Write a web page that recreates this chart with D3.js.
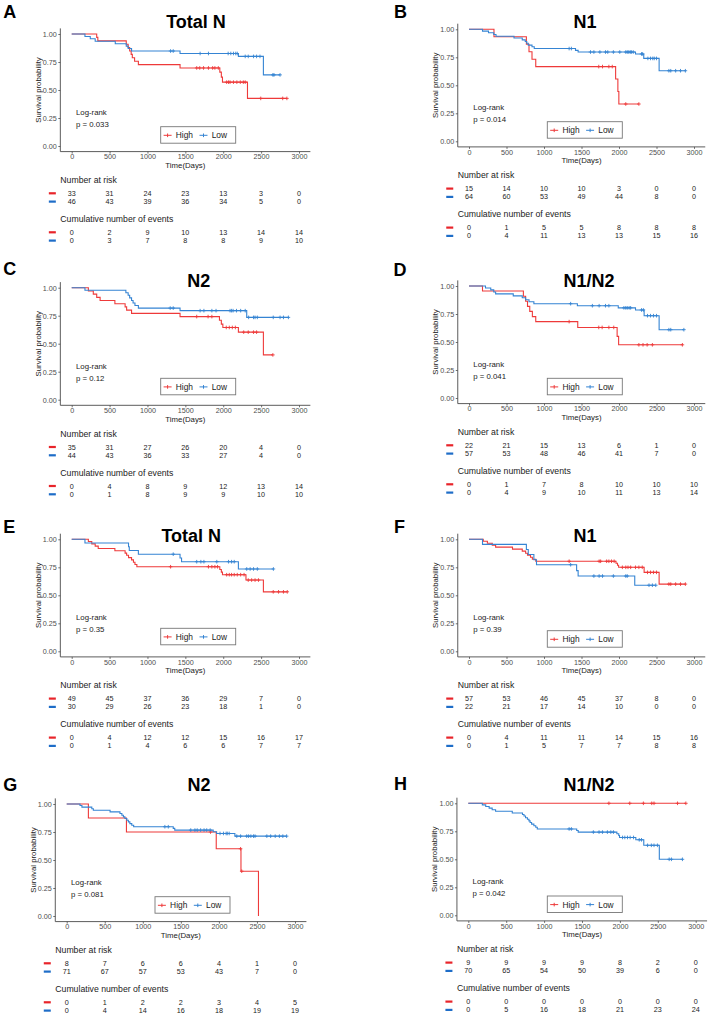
<!DOCTYPE html>
<html><head><meta charset="utf-8">
<script src="https://cdn.jsdelivr.net/npm/d3@7"></script>
<style>body{margin:0;background:#fff}svg{display:block}text{font-family:"Liberation Sans",Arial,sans-serif}</style>
</head><body><svg id="c" width="709" height="1017"></svg>
<script>
// ---------- DATA ----------
const timeTicks = [0, 500, 1000, 1500, 2000, 2500, 3000];
const survTicks = [0, 0.25, 0.5, 0.75, 1];
const panelLetters = ["A", "B", "C", "D", "E", "F", "G", "H"];
const panelTitles = ["Total N", "N1", "N2", "N1/N2", "Total N", "N1", "N2", "N1/N2"];
const pValues = ["p = 0.033", "p = 0.014", "p = 0.12", "p = 0.041", "p = 0.35", "p = 0.39", "p = 0.081", "p = 0.042"];
const groupNames = ["High", "Low"];

const riskHigh = [
  [33, 31, 24, 23, 13, 3, 0], [15, 14, 10, 10, 3, 0, 0], [35, 31, 27, 26, 20, 4, 0], [22, 21, 15, 13, 6, 1, 0],
  [49, 45, 37, 36, 29, 7, 0], [57, 53, 46, 45, 37, 8, 0], [8, 7, 6, 6, 4, 1, 0], [9, 9, 9, 9, 8, 2, 0]];
const riskLow = [
  [46, 43, 39, 36, 34, 5, 0], [64, 60, 53, 49, 44, 8, 0], [44, 43, 36, 33, 27, 4, 0], [57, 53, 48, 46, 41, 7, 0],
  [30, 29, 26, 23, 18, 1, 0], [22, 21, 17, 14, 10, 0, 0], [71, 67, 57, 53, 43, 7, 0], [70, 65, 54, 50, 39, 6, 0]];
const eventsHigh = [
  [0, 2, 9, 10, 13, 14, 14], [0, 1, 5, 5, 8, 8, 8], [0, 4, 8, 9, 12, 13, 14], [0, 1, 7, 8, 10, 10, 10],
  [0, 4, 12, 12, 15, 16, 17], [0, 4, 11, 11, 14, 15, 16], [0, 1, 2, 2, 3, 4, 5], [0, 0, 0, 0, 0, 0, 0]];
const eventsLow = [
  [0, 3, 7, 8, 8, 9, 10], [0, 4, 11, 13, 13, 15, 16], [0, 1, 8, 9, 9, 10, 10], [0, 4, 9, 10, 11, 13, 14],
  [0, 1, 4, 6, 6, 7, 7], [0, 1, 5, 7, 7, 8, 8], [0, 4, 14, 16, 18, 19, 19], [0, 5, 16, 18, 21, 23, 24]];

// Kaplan-Meier drops [time, survival after drop]
const stepsHigh = [
  [[330,0.97],[345,0.939],[720,0.909],[745,0.879],[765,0.848],[785,0.818],[800,0.788],[830,0.757],[880,0.727],[1430,0.697],[1955,0.66],[1975,0.615],[1990,0.57],[2320,0.425]],
  [[333,0.933],[765,0.867],[800,0.80],[840,0.733],[890,0.667],[1955,0.556],[1985,0.444],[1998,0.333]],
  [[220,0.971],[285,0.943],[330,0.914],[375,0.886],[570,0.857],[705,0.829],[725,0.80],[790,0.771],[1430,0.742],[1950,0.71],[1975,0.675],[1995,0.645],[2200,0.603],[2530,0.40]],
  [[180,0.955],[725,0.909],[755,0.864],[780,0.818],[810,0.773],[845,0.727],[890,0.682],[1450,0.63],[1975,0.55],[1995,0.475]],
  [[220,0.98],[265,0.959],[310,0.939],[350,0.918],[570,0.898],[705,0.877],[725,0.857],[750,0.836],[790,0.816],[815,0.795],[835,0.775],[860,0.755],[1955,0.73],[1975,0.707],[1990,0.684],[2300,0.636],[2530,0.531]],
  [[190,0.982],[245,0.965],[310,0.947],[355,0.93],[580,0.912],[710,0.894],[755,0.876],[780,0.857],[820,0.84],[845,0.822],[890,0.804],[1960,0.786],[1980,0.768],[1995,0.75],[2335,0.705],[2535,0.60]],
  [[285,0.875],[785,0.75],[1965,0.60],[2290,0.40],[2520,0.0]],
  []];
const stepsLow = [
  [[175,0.978],[245,0.957],[310,0.935],[575,0.913],[720,0.892],[745,0.87],[790,0.848],[1430,0.826],[2200,0.80],[2530,0.635]],
  [[180,0.984],[260,0.969],[330,0.953],[360,0.938],[600,0.922],[710,0.906],[750,0.891],[770,0.875],[790,0.859],[840,0.844],[870,0.828],[1420,0.812],[1455,0.797],[2220,0.78],[2330,0.74],[2535,0.63]],
  [[175,0.977],[715,0.955],[745,0.932],[765,0.909],[790,0.886],[810,0.864],[835,0.841],[880,0.818],[1430,0.795],[2310,0.735]],
  [[220,0.982],[290,0.965],[330,0.947],[355,0.93],[590,0.912],[710,0.895],[755,0.877],[800,0.86],[865,0.842],[1445,0.824],[1990,0.805],[2220,0.786],[2335,0.735],[2535,0.61]],
  [[175,0.967],[750,0.933],[760,0.90],[880,0.867],[1430,0.833],[1450,0.80],[2200,0.735]],
  [[180,0.955],[765,0.909],[790,0.864],[865,0.818],[900,0.773],[1435,0.72],[1455,0.672],[2210,0.59]],
  [[175,0.986],[200,0.972],[330,0.958],[350,0.944],[570,0.93],[700,0.915],[725,0.90],[745,0.885],[765,0.87],[790,0.855],[810,0.84],[830,0.825],[855,0.81],[880,0.797],[1400,0.782],[1420,0.767],[1925,0.752],[1970,0.737],[2210,0.713]],
  [[185,0.986],[230,0.971],[275,0.957],[315,0.943],[360,0.929],[580,0.914],[715,0.90],[735,0.886],[755,0.871],[780,0.857],[800,0.843],[815,0.829],[835,0.814],[865,0.80],[890,0.786],[910,0.771],[1430,0.757],[1450,0.743],[1960,0.728],[1985,0.712],[1995,0.695],[2210,0.674],[2315,0.625],[2520,0.50]]];

// censoring times
const censorHigh = [
  [1650,1690,1740,1805,1860,1890,1935,2045,2070,2090,2135,2180,2225,2265,2290,2495,2785,2840],
  [1730,1780,1865,1910,2090,2265],
  [1650,1800,1850,2040,2080,2120,2160,2270,2330,2400,2440,2655],
  [1335,1730,1775,1865,1930,2265,2320,2375,2445,2845],
  [1305,1805,1850,1890,1925,2045,2080,2110,2145,2185,2230,2275,2330,2375,2420,2465,2660,2730,2795,2845],
  [1335,1735,1755,1835,1865,1900,1935,2045,2090,2120,2155,2220,2265,2310,2380,2420,2460,2500,2665,2690,2755,2820,2885],
  [1890,2285,2300],
  [1855,2130,2310,2420,2450,2760,2870]];
const censorLow = [
  [1305,1340,1695,1805,2065,2100,2135,2165,2185,2290,2330,2400,2440,2485,2655,2670,2750],
  [1335,1365,1620,1665,1745,1820,1850,1925,2010,2090,2110,2130,2150,2165,2190,2300,2315,2385,2420,2450,2470,2500,2665,2690,2755,2820,2885],
  [1300,1340,1695,1745,1850,1905,2090,2110,2130,2175,2230,2290,2335,2400,2420,2450,2660,2750,2795,2860],
  [1355,1645,1735,1820,1865,2065,2090,2110,2135,2155,2300,2325,2380,2420,2460,2500,2665,2690,2865],
  [1340,1650,1705,1745,1915,2070,2110,2145,2310,2355,2400,2450,2662],
  [1355,1665,1735,1780,1925,2090,2110,2400,2445,2490],
  [1290,1335,1630,1685,1715,1760,1805,1840,1885,2015,2060,2095,2110,2135,2235,2285,2365,2390,2420,2455,2475,2630,2680,2740,2795,2840,2890],
  [1330,1360,1650,1725,1770,1835,1880,1915,2035,2065,2100,2135,2180,2255,2285,2365,2415,2450,2495,2650,2680,2825]];

// ---------- LAYOUT (positions only) ----------
const layout = [
  {x0:71.7, x1:299,   y1:34,    tx:196,   ty:28.3,  lx:3.3,   ly:18.3,  legX:89,   legY:-19.3},
  {x0:469,  x1:694,   y1:29.3,  tx:585,   ty:28.3,  lx:394,   ly:18.3,  legX:78.3, legY:-19.6},
  {x0:71.7, x1:299,   y1:287.7, tx:198.7, ty:287.3, lx:3.3,   ly:275,   legX:89,   legY:-21.4},
  {x0:469,  x1:694,   y1:286,   tx:589,   ty:287.3, lx:393.5, ly:276,   legX:78.3, legY:-19.7},
  {x0:71.7, x1:299,   y1:539.3, tx:191.3, ty:541.7, lx:3.3,   ly:533.3, legX:89,   legY:-23},
  {x0:469,  x1:694,   y1:539.3, tx:585,   ty:541.7, lx:394,   ly:533.3, legX:78.3, legY:-20.6},
  {x0:66.7, x1:295,   y1:804,   tx:199,   ty:790.7, lx:3.3,   ly:790.7, legX:88.3, legY:-19.3},
  {x0:468.3,x1:695.7, y1:803.3, tx:589,   ty:790.7, lx:394,   ly:790,   legX:79,   legY:-19.3}];
const PH = 112;
const colCurve = ["#EE3A3A", "#3584D3"];
const colDash = ["#E8242A", "#1E6DC8"];
const axisCol = "#4a4a4a";

const svg = d3.select("#c");

function sAt(steps, c) { let s = 1; for (const [t, v] of steps) if (t <= c) s = v; return s; }

panelLetters.forEach((letter, i) => {
  const L = layout[i];
  const x = d3.scaleLinear().domain([0, 3000]).range([L.x0, L.x1]);
  const y = d3.scaleLinear().domain([0, 1]).range([L.y1 + PH, L.y1]);
  const g = svg.append("g");
  const ax = x(-150), ay = y(-0.05), y0 = y(0);

  // letter & title
  g.append("text").attr("x", L.lx).attr("y", L.ly).attr("font-size", 18).attr("font-weight", "bold").text(letter);
  g.append("text").attr("x", L.tx).attr("y", L.ty).attr("font-size", 18).attr("font-weight", "bold")
    .attr("text-anchor", "middle").text(panelTitles[i]);

  // axes
  g.append("line").attr("x1", ax).attr("x2", x(3150)).attr("y1", ay).attr("y2", ay).attr("stroke", axisCol).attr("stroke-width", 0.9);
  g.append("line").attr("x1", ax).attr("x2", ax).attr("y1", ay).attr("y2", y(1.05)).attr("stroke", axisCol).attr("stroke-width", 0.9);
  const xa = g.append("g").attr("transform", `translate(0,${ay})`)
    .call(d3.axisBottom(x).tickValues(timeTicks).tickSize(2).tickPadding(0.6).tickFormat(d3.format("d")));
  const ya = g.append("g").attr("transform", `translate(${ax},0)`)
    .call(d3.axisLeft(y).tickValues(survTicks).tickSize(2).tickPadding(1.5).tickFormat(d3.format(".2f")));
  [xa, ya].forEach(a => {
    a.attr("font-size", null).attr("font-family", null);
    a.select(".domain").remove();
    a.selectAll(".tick line").attr("stroke", axisCol).attr("stroke-width", 0.8);
    a.selectAll(".tick text").attr("font-size", 7.2).attr("fill", "#4d4d4d");
  });
  g.append("text").attr("x", (ax + x(3150)) / 2).attr("y", y0 + 22).attr("text-anchor", "middle")
    .attr("font-size", 7.8).attr("fill", "#222").text("Time(Days)");
  g.append("text").attr("transform", `translate(${ax - 19.5},${(y(0) + y(1)) / 2}) rotate(-90)`)
    .attr("text-anchor", "middle").attr("font-size", 7.8).attr("fill", "#222").text("Survival probability");

  // curves
  const line = d3.line().x(d => x(d[0])).y(d => y(d[1])).curve(d3.curveStepAfter);
  [[stepsHigh[i], censorHigh[i]], [stepsLow[i], censorLow[i]]].forEach(([steps, cens], k) => {
    const last = steps.length ? steps[steps.length - 1] : [0, 1];
    const end = Math.max(last[0], cens.length ? d3.max(cens) : 0);
    const pts = [[0, 1], ...steps, [end, last[1]]];
    g.append("path").attr("d", line(pts)).attr("fill", "none").attr("stroke", colCurve[k]).attr("stroke-width", 1.1);
    g.selectAll(null).data(cens).join("path")
      .attr("d", c => { const cx = x(c), cy = y(sAt(steps, c)); return `M${cx - 1.8},${cy}H${cx + 1.8}M${cx},${cy - 1.8}V${cy + 1.8}`; })
      .attr("stroke", colCurve[k]).attr("stroke-width", 0.9);
  });

  // log-rank text
  g.append("text").attr("x", L.x0 + 4.3).attr("y", y0 - 31).attr("font-size", 7.8).attr("fill", "#222").text("Log-rank");
  g.append("text").attr("x", L.x0 + 4.3).attr("y", y0 - 19).attr("font-size", 7.8).attr("fill", "#222").text(pValues[i]);

  // legend
  const lgx = L.x0 + L.legX, lgy = y0 + L.legY;
  g.append("rect").attr("x", lgx).attr("y", lgy).attr("width", 75).attr("height", 16.5)
    .attr("fill", "#fff").attr("stroke", "#777").attr("stroke-width", 0.9);
  groupNames.forEach((nm, k) => {
    const sx = lgx + (k ? 38.8 : 2.9), cy = lgy + 8.6;
    g.append("path").attr("d", `M${sx},${cy}H${sx + 8}M${sx + 4},${cy - 1.8}V${cy + 1.8}`)
      .attr("stroke", colCurve[k]).attr("stroke-width", 1);
    g.append("text").attr("x", sx + 12.2).attr("y", cy + 3).attr("font-size", 8.4).attr("fill", "#222").text(nm);
  });

  // tables
  const tables = [["Number at risk", riskHigh[i], riskLow[i], 37], ["Cumulative number of events", eventsHigh[i], eventsLow[i], 76]];
  tables.forEach(([label, hi, lo, off]) => {
    g.append("text").attr("x", ax).attr("y", y0 + off).attr("font-size", 8.7).attr("fill", "#222").text(label);
    [hi, lo].forEach((row, k) => {
      const by = y0 + off + 12.8 + k * 8.3;
      g.append("rect").attr("x", ax - 11.5).attr("y", by - 3.6).attr("width", 7).attr("height", 2.2).attr("fill", colDash[k]);
      g.selectAll(null).data(row).join("text")
        .attr("x", (d, j) => x(timeTicks[j])).attr("y", by).attr("text-anchor", "middle")
        .attr("font-size", 7.2).attr("fill", "#222").text(d => d);
    });
  });
});
</script></body></html>
